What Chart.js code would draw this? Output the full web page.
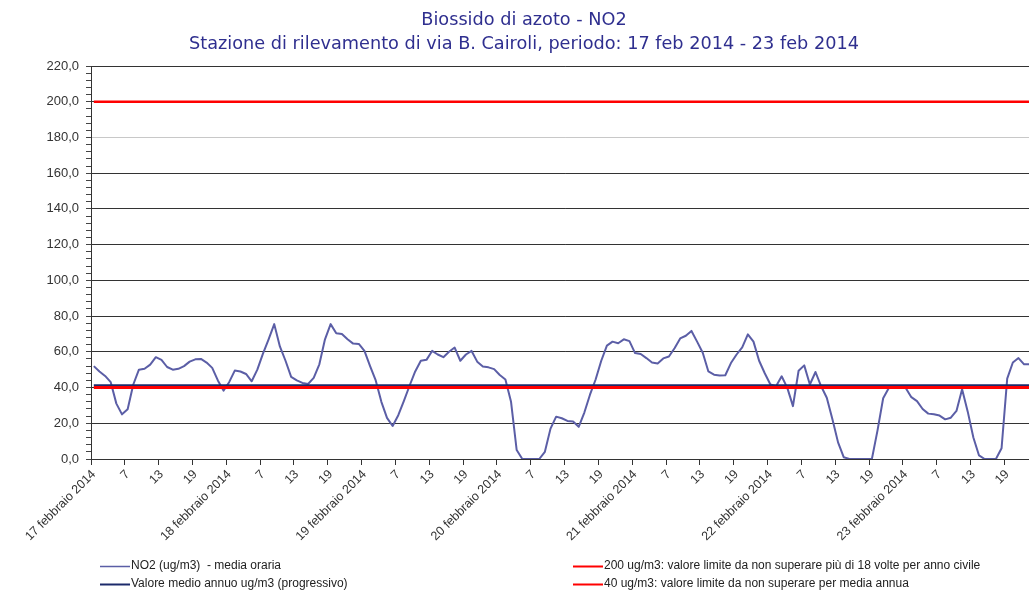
<!DOCTYPE html>
<html><head><meta charset="utf-8">
<script src="https://cdn.jsdelivr.net/npm/chart.js@4/dist/chart.umd.min.js"></script>
<style>html,body{margin:0;padding:0;background:#fff;overflow:hidden}#wrap{width:1029px;height:592px;position:relative;overflow:hidden}canvas{display:block}</style>
</head><body><div id="wrap"><canvas id="c" width="1048" height="592"></canvas></div>
<script>
// ---- data (hourly NO2, ug/m3) ----
const giorni = [17, 18, 19, 20, 21, 22, 23];
const ore = [1,2,3,4,5,6,7,8,9,10,11,12,13,14,15,16,17,18,19,20,21,22,23,24];
const no2_17 = [52, 49, 46.5, 43, 31, 25, 27.8, 41.7, 50, 50.5, 52.8, 57, 55.5, 51.5, 50, 50.5, 52, 54.5, 55.8, 56, 54, 51, 44, 38.3];
const no2_18 = [43, 49.5, 49, 47.6, 43.5, 50, 59, 67, 75.5, 63, 55, 46, 44, 42.6, 42, 45.4, 53, 67, 75.5, 70.4, 70, 67, 64.6, 64.4];
const no2_19 = [60.5, 52, 44, 32, 23, 18.5, 24.5, 32.5, 41, 49, 55, 55.5, 60.5, 58.5, 57, 60, 62.4, 55, 58.5, 60.5, 54.5, 51.8, 51.3, 50.3];
const no2_20 = [47, 44.5, 32, 5, 0, 0, 0, 0, 4, 17, 23.7, 22.8, 21.3, 21, 18, 26, 36, 44.5, 55, 63.5, 65.7, 64.8, 67, 66];
const no2_21 = [59.3, 58.8, 56.5, 54, 53.5, 56.3, 57.4, 62, 67.5, 69, 71.7, 65.7, 59.5, 49, 47.2, 46.7, 46.9, 53.7, 58.5, 62.5, 69.8, 65.7, 55, 48];
const no2_22 = [41.7, 40.7, 46.3, 39.8, 29.6, 49.4, 52.4, 41.7, 48.7, 40.7, 34.3, 22.2, 9.3, 1, 0, 0, 0, 0, 0, 16, 34, 39.8, 40, 40];
const no2_23 = [39.8, 34.6, 32.4, 28, 25.4, 25, 24.3, 22.2, 23.1, 26.9, 39, 26.5, 12, 2, 0, 0, 0, 6, 45, 54, 56.5, 53, 53, 53];
const valoreMedioAnnuo = 41.3;
const limite200 = 200;
const limite40 = 40;
const yMin = 0, yMax = 220, yStepMinor = 4, yStepMajor = 20;

const no2 = [].concat(no2_17, no2_18, no2_19, no2_20, no2_21, no2_22, no2_23);
const labels = [];
giorni.forEach(g => ore.forEach(h => labels.push(h === 1 ? g + ' febbraio 2014' : String(h))));

const legendPlugin = {
  id: 'legendaExcel',
  afterDraw(chart) {
    const ctx = chart.ctx;
    const pos = [[100, 566], [100, 584], [573, 566], [573, 584]];
    ctx.save();
    ctx.font = '12px "Liberation Sans", Arial, sans-serif';
    ctx.textBaseline = 'middle';
    ctx.textAlign = 'left';
    chart.data.datasets.forEach((ds, i) => {
      const [x, y] = pos[i];
      ctx.strokeStyle = ds.borderColor;
      ctx.lineWidth = i === 0 ? 1.5 : 2;
      ctx.beginPath(); ctx.moveTo(x, y + 0.5); ctx.lineTo(x + 30, y + 0.5); ctx.stroke();
      ctx.fillStyle = '#222';
      ctx.fillText(ds.label, x + 31, y);
    });
    ctx.restore();
  }
};

new Chart(document.getElementById('c'), {
  type: 'line',
  data: {
    labels: labels,
    datasets: [
      { label: 'NO2 (ug/m3)  - media oraria', data: no2, borderColor: '#5b5ea6', borderWidth: 2, order: 4 },
      { label: 'Valore medio annuo ug/m3 (progressivo)', data: labels.map(() => valoreMedioAnnuo), borderColor: '#1c2a6b', borderWidth: 2, order: 3 },
      { label: '200 ug/m3: valore limite da non superare più di 18 volte per anno civile', data: labels.map(() => limite200), borderColor: '#ff0000', borderWidth: 2.5, order: 2 },
      { label: '40 ug/m3: valore limite da non superare per media annua', data: labels.map(() => limite40), borderColor: '#ff0000', borderWidth: 3, order: 1 }
    ]
  },
  options: {
    responsive: false,
    animation: false,
    devicePixelRatio: 1,
    layout: { padding: 0 },
    elements: { point: { radius: 0, hoverRadius: 0 }, line: { tension: 0, fill: false, borderJoinStyle: 'round' } },
    plugins: {
      legend: { display: false },
      tooltip: { enabled: false },
      title: {
        display: true,
        text: ['Biossido di azoto - NO2', 'Stazione di rilevamento di via B. Cairoli, periodo: 17 feb 2014 - 23 feb 2014'],
        color: '#2f2f8f',
        font: { family: '"DejaVu Sans", Verdana, sans-serif', size: 17.7, weight: 'normal', lineHeight: '24px' },
        padding: { top: 8, bottom: 10 }
      }
    },
    scales: {
      x: {
        type: 'category',
        offset: true,
        afterFit(s) { s.height = 133; },
        border: { display: true, color: '#333', width: 1 },
        grid: {
          offset: true,
          drawOnChartArea: false,
          drawTicks: true,
          tickLength: 6,
          tickColor: c => (c.index % 6 === 0 ? '#333' : 'rgba(0,0,0,0)'),
          color: 'rgba(0,0,0,0)'
        },
        ticks: {
          autoSkip: false,
          minRotation: 45,
          maxRotation: 45,
          padding: 2,
          color: '#333',
          font: { family: '"Liberation Sans", Arial, sans-serif', size: 12.5 },
          callback(v, i) { return (i % 6 === 0) ? this.getLabelForValue(v) : ''; }
        }
      },
      y: {
        min: yMin, max: yMax,
        afterFit(s) { s.width = 91; },
        border: { display: true, color: '#333', width: 1 },
        grid: {
          drawTicks: true,
          tickLength: 5,
          tickColor: '#444',
          lineWidth: 1,
          color: c => {
            const v = c.tick ? c.tick.value : 0;
            if (v % yStepMajor !== 0) return 'rgba(0,0,0,0)';
            return v === 180 ? '#c8c8c8' : '#333';
          }
        },
        ticks: {
          stepSize: yStepMinor,
          autoSkip: false,
          padding: 7,
          color: '#333',
          font: { family: '"Liberation Sans", Arial, sans-serif', size: 13 },
          callback: v => (v % yStepMajor === 0 ? v.toFixed(1).replace('.', ',') : '')
        }
      }
    }
  },
  plugins: [legendPlugin]
});
</script></body></html>
